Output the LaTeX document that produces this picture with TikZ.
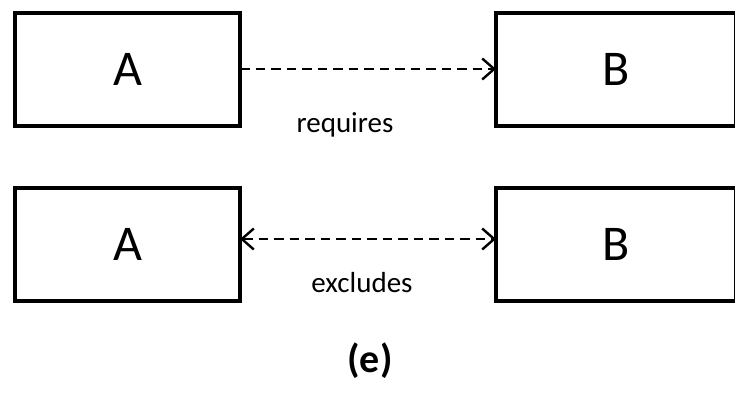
\documentclass[tikz,border=0pt]{standalone}
\usepackage{fontspec}
\setmainfont{Carlito}
\usetikzlibrary{arrows.meta}
\begin{document}
\begin{tikzpicture}[x=1pt,y=-1pt,
  entbox/.style={draw=black,line width=4.5pt,minimum width=#1,minimum height=113pt,inner sep=0pt,outer sep=0pt,font=\fontsize{50}{54}\selectfont},
  relline/.style={line width=2.4pt,dash pattern=on 9.5pt off 6pt},
  lbl/.style={anchor=base,inner sep=0pt,font=\fontsize{29}{32}\selectfont}]
\useasboundingbox (0,0) rectangle (735,402);
\node[entbox=225pt] (A1) at (127.5,69.5) {A};
\node[entbox=240pt] (B1) at (616,69.5) {B};
\node[entbox=225pt] (A2) at (127.5,244.5) {A};
\node[entbox=240pt] (B2) at (616,244.5) {B};
\draw[relline,-{Straight Barb[length=12pt,width=21pt,line width=2.4pt]}] ([yshift=0.5pt]A1.east) -- ([yshift=0.5pt]B1.west);
\draw[relline,{Straight Barb[length=12pt,width=21pt,line width=2.4pt]}-{Straight Barb[length=12pt,width=21pt,line width=2.4pt]}] ([yshift=5.5pt]A2.east) -- ([yshift=5.5pt]B2.west);
\node[lbl] (req) at (345,132) {requires};
\node[lbl] (exc) at (362,292) {excludes};
\node[anchor=base,inner sep=0pt,font=\fontsize{40}{44}\selectfont\bfseries] (cap) at (370,372) {(e)};
\end{tikzpicture}
\end{document}
